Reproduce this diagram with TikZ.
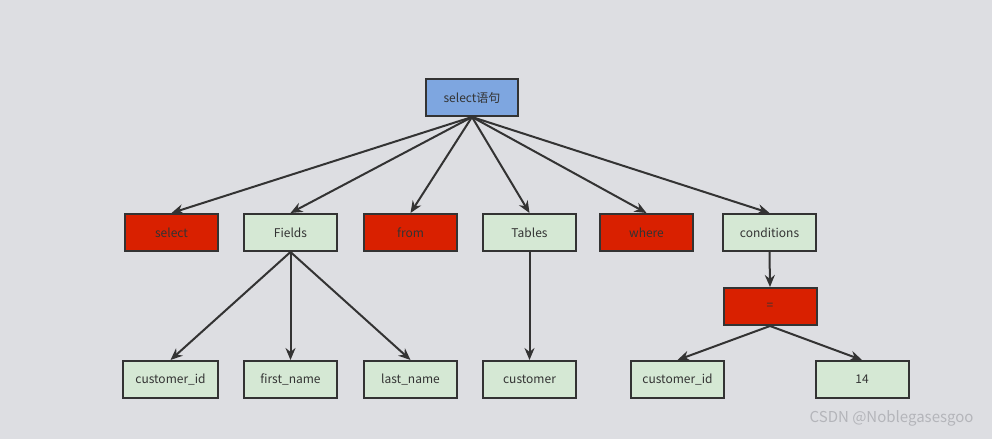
\documentclass[tikz,border=0pt]{standalone}
\usepackage{fontspec}
\setmainfont{Noto Sans CJK SC}
\usetikzlibrary{arrows.meta}
\definecolor{bgc}{HTML}{DDDEE2}
\definecolor{redf}{HTML}{D92000}
\definecolor{greenf}{HTML}{D5E8D4}
\definecolor{bluef}{HTML}{7EA6E0}
\definecolor{ink}{HTML}{333333}
\definecolor{wmc}{HTML}{B4B5BA}
\tikzset{
  box/.style={draw=ink, line width=2pt, minimum width=93pt, minimum height=37pt, inner sep=0pt, text=ink, font=\fontsize{12}{14}\selectfont},
  redbox/.style={box, fill=redf},
  greenbox/.style={box, fill=greenf},
  bluebox/.style={box, fill=bluef},
  conn/.style={draw=ink, line width=2pt, -{Stealth[length=12pt,width=10pt]}},
}
\begin{document}
\begin{tikzpicture}[x=1pt,y=-1pt]
\fill[bgc] (0,0) rectangle (992,439);
\useasboundingbox (0,0) rectangle (992,439);
\node[bluebox, minimum width=92pt] (root) at (472,97.5) {select语句};
\node[redbox] (sel) at (171.5,232.5) {select};
\node[greenbox] (fields) at (290.5,232.5) {Fields};
\node[redbox] (from) at (410.5,232.5) {from};
\node[greenbox] (tables) at (529.5,232.5) {Tables};
\node[redbox] (where) at (646.5,232.5) {where};
\node[greenbox] (cond) at (769.5,232.5) {conditions};
\node[redbox] (eq) at (770,306.5) {=};
\node[greenbox, minimum width=95pt] (cid) at (170.5,379.5) {customer\_id};
\node[greenbox] (fname) at (290.5,379.5) {first\_name};
\node[greenbox] (lname) at (410.5,379.5) {last\_name};
\node[greenbox] (cust) at (529.5,379.5) {customer};
\node[greenbox] (cid2) at (677.5,379.5) {customer\_id};
\node[greenbox] (num) at (862,379.5) {14};
\foreach \t in {sel,fields,from,tables,where,cond} \draw[conn] (root.south) -- (\t.north);
\foreach \t in {cid,fname,lname} \draw[conn] (fields.south) -- (\t.north);
\draw[conn] (tables.south) -- (cust.north);
\draw[conn] (cond.south) -- (eq.north);
\draw[conn] (eq.south) -- (cid2.north);
\draw[conn] (eq.south) -- (num.north);
\node[text=wmc, font=\fontsize{15}{17}\selectfont, anchor=east] (wm) at (977,418) {CSDN @Noblegasesgoo};
\end{tikzpicture}
\end{document}
